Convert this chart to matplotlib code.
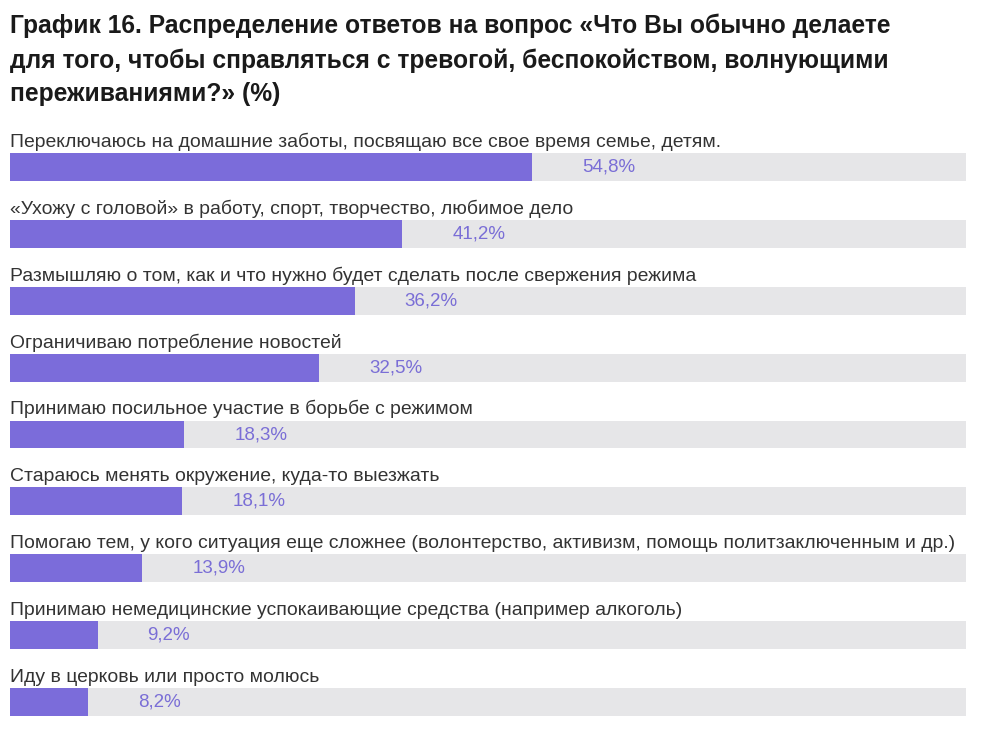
import matplotlib.pyplot as plt
from matplotlib.patches import Rectangle

plt.rcParams['font.family'] = ['Liberation Sans', 'DejaVu Sans']

title = ("График 16. Распределение ответов на вопрос «Что Вы обычно делаете\n"
         "для того, чтобы справляться с тревогой, беспокойством, волнующими\n"
         "переживаниями?» (%)")

labels = [
    "Переключаюсь на домашние заботы, посвящаю все свое время семье, детям.",
    "«Ухожу с головой» в работу, спорт, творчество, любимое дело",
    "Размышляю о том, как и что нужно будет сделать после свержения режима",
    "Ограничиваю потребление новостей",
    "Принимаю посильное участие в борьбе с режимом",
    "Стараюсь менять окружение, куда-то выезжать",
    "Помогаю тем, у кого ситуация еще сложнее (волонтерство, активизм, помощь политзаключенным и др.)",
    "Принимаю немедицинские успокаивающие средства (например алкоголь)",
    "Иду в церковь или просто молюсь",
]
values = [54.8, 41.2, 36.2, 32.5, 18.3, 18.1, 13.9, 9.2, 8.2]
value_labels = ["54,8%", "41,2%", "36,2%", "32,5%", "18,3%", "18,1%", "13,9%", "9,2%", "8,2%"]

bar_color = "#7B6CDA"
track_color = "#E6E6E8"
value_color = "#7A6ED6"

W, H = 992, 745
fig = plt.figure(figsize=(W / 100, H / 100), dpi=100)

top_px, bot_px = 153, 716
ax = fig.add_axes([10 / W, 1 - bot_px / H, 956 / W, (bot_px - top_px) / H])

n = len(values)
h = 28 / 66.9
full = 100.4
for i, (lab, v, vl) in enumerate(zip(labels, values, value_labels)):
    ax.add_patch(Rectangle((0, i - h / 2), full, h, color=track_color, lw=0))
    ax.barh(i, v, height=h, color=bar_color, lw=0)
    ax.annotate(lab, (0, i - h / 2), xytext=(0, 1.5), textcoords="offset points",
                ha="left", va="bottom", fontsize=13.95, color="#333333")
    ax.annotate(vl, (v, i), xytext=(36, 0), textcoords="offset points",
                ha="left", va="center", fontsize=13.5, color=value_color)

ax.set_xlim(0, full)
ax.set_ylim(n - 1 + h / 2, -h / 2)
ax.axis("off")

fig.text(10 / W, 1 - 14 / H, title, ha="left", va="top", fontsize=17.75,
         fontweight="bold", color="#1a1a1a", linespacing=1.5)

fig.savefig("out.png", dpi=100)
